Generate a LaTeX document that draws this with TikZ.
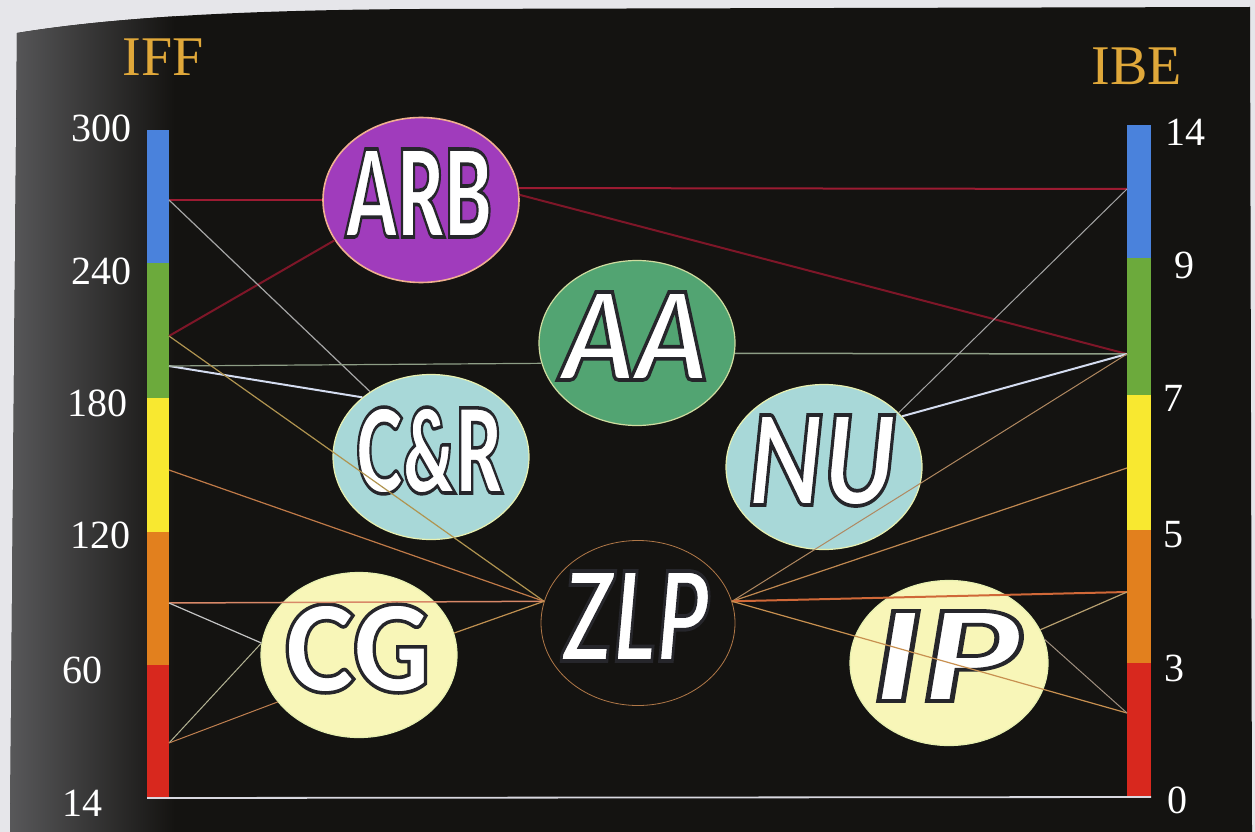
\documentclass[tikz,border=0pt]{standalone}
\usepackage{fontspec}
\setmainfont{Liberation Serif}
\usepackage{graphicx}
\usetikzlibrary{shapes.geometric}
\IfFontExistsTF{Lato Black}
  {\font\waup="Lato Black:embolden=3" at 120pt}
  {\font\waup="Liberation Sans/B:embolden=3" at 120pt}
\IfFontExistsTF{Lato Black Italic}
  {\font\wait="Lato Black Italic:embolden=3" at 120pt}
  {\font\wait="Liberation Sans/BI:embolden=3" at 120pt}
\newcommand\wa[4]{\makebox[0pt]{\hspace*{-4pt}\raisebox{\dimexpr 7pt-#2pt/2\relax}[0pt][0pt]{\resizebox{#1pt}{#2pt}{#3\special{pdf:literal direct 0.15 0.15 0.17 RG}#4}}}}
\definecolor{pagebg}{HTML}{E6E6EA}
\definecolor{bg}{HTML}{141311}
\definecolor{shadeL}{HTML}{5C5C5E}
\definecolor{barblue}{HTML}{4A82DC}
\definecolor{bargreen}{HTML}{6CAA3C}
\definecolor{baryellow}{HTML}{F8E830}
\definecolor{barorange}{HTML}{E2801E}
\definecolor{barred}{HTML}{D8281E}
\definecolor{gold}{HTML}{E0A83A}
\definecolor{arbfill}{HTML}{A03CBC}
\definecolor{arbedge}{HTML}{F0B090}
\definecolor{aafill}{HTML}{52A472}
\definecolor{aaedge}{HTML}{D0DCA0}
\definecolor{crfill}{HTML}{A8D8D8}
\definecolor{cgfill}{HTML}{F8F6B8}
\definecolor{paleedge}{HTML}{E8F0B0}
\definecolor{zlpedge}{HTML}{B07848}
\definecolor{redA}{HTML}{9C1B32}
\definecolor{redB}{HTML}{7E1628}
\definecolor{greyA}{HTML}{A5A5A5}
\definecolor{paleblue}{HTML}{D4DCF0}
\definecolor{greygreen}{HTML}{8E9E86}
\definecolor{tanA}{HTML}{B09450}
\definecolor{tanB}{HTML}{C07A48}
\definecolor{pinkor}{HTML}{D88868}
\definecolor{greyB}{HTML}{C4C4C4}
\definecolor{greyY}{HTML}{B4B494}
\definecolor{tanC}{HTML}{C08050}
\definecolor{tanD}{HTML}{C09050}
\definecolor{tanE}{HTML}{B08860}
\definecolor{tanF}{HTML}{C08850}
\definecolor{orred}{HTML}{D06838}
\definecolor{tanG}{HTML}{C89050}
\definecolor{tanH}{HTML}{B8A070}
\definecolor{greyT}{HTML}{A09080}
\definecolor{axisc}{HTML}{D8D8E0}
\tikzset{
  blob/.style={ellipse, inner sep=0pt, text=white, line width=1.2pt, minimum width=196pt, minimum height=165pt},
  numlab/.style={text=white, inner sep=0pt, font=\fontsize{40}{40}\selectfont},
  ttl/.style={text=gold, inner sep=0pt, font=\fontsize{56}{56}\selectfont},
  conn/.style={line width=#1},
  conn/.default=1.2pt
}
\begin{document}
\begin{tikzpicture}[x=1pt,y=-1pt]
\useasboundingbox (0,0) rectangle (1255,832);
\fill[pagebg] (0,0) rectangle (1255,832);
\begin{scope}
  \clip (17,33) .. controls (120,16) and (260,10) .. (420,9) -- (1250,7) -- (1252,832) -- (10,832) -- cycle;
  \fill[bg] (0,0) rectangle (1255,832);
  \shade[left color=shadeL, right color=bg] (0,0) rectangle (175,832);
\end{scope}

% colour bars
\fill[barblue]   (147,130) rectangle (169,263);
\fill[bargreen]  (147,263) rectangle (169,398);
\fill[baryellow] (147,398) rectangle (169,532);
\fill[barorange] (147,532) rectangle (169,665);
\fill[barred]    (147,665) rectangle (169,798);
\fill[barblue]   (1127,125) rectangle (1151,258);
\fill[bargreen]  (1127,258) rectangle (1151,395);
\fill[baryellow] (1127,395) rectangle (1151,530);
\fill[barorange] (1127,530) rectangle (1151,663);
\fill[barred]    (1127,663) rectangle (1151,797);
\coordinate (ax1) at (147,798);
\coordinate (ax2) at (1151,797);
\draw[axisc, line width=1.8pt] (ax1) -- (ax2);

% titles and scale labels
\node[ttl] (iff) at (163,57) {IFF};
\node[ttl] (ibe) at (1137,66) {IBE};
\node[numlab] (t300) at (101,128) {300};
\node[numlab] (t240) at (101,271) {240};
\node[numlab] (t180) at (97,403) {180};
\node[numlab] (t120) at (100,535) {120};
\node[numlab] (t60)  at (82,670) {60};
\node[numlab] (t14)  at (82,803) {14};
\node[numlab] (r14)  at (1185,132) {14};
\node[numlab] (r9)   at (1184,265) {9};
\node[numlab] (r7)   at (1173,398) {7};
\node[numlab] (r5)   at (1173,535) {5};
\node[numlab] (r3)   at (1174,668) {3};
\node[numlab] (r0)   at (1177,800) {0};

% ellipses
\node[blob, fill=arbfill, draw=arbedge, line width=1.6pt] (arb) at (421,200) {\wa{146}{88}{\waup}{ARB}};
\node[blob, fill=aafill, draw=aaedge] (aa) at (637,343) {\wa{146}{88}{\wait}{AA}};
\node[blob, fill=crfill, draw=paleedge] (cr) at (431,457) {\wa{146}{86}{\waup}{C\&R}};
\node[blob, fill=crfill, draw=paleedge] (nu) at (824,467) {\wa{148}{90}{\wait}{NU}};
\node[blob, fill=bg, draw=zlpedge, line width=0.8pt, minimum width=194pt] (zlp) at (638,623) {\wa{146}{90}{\wait}{ZLP}};
\node[blob, fill=cgfill, draw=paleedge] (cg) at (359,655) {\wa{146}{88}{\waup}{CG}};
\node[blob, fill=cgfill, draw=paleedge, minimum width=198pt] (ip) at (949,663) {\wa{148}{90}{\wait}{IP}};

% attachment points on the bars
\coordinate (l200) at (169,200);
\coordinate (l336) at (169,336);
\coordinate (l366) at (169,366);
\coordinate (l470) at (169,470);
\coordinate (l603) at (169,603);
\coordinate (l743) at (169,743);
\coordinate (r189) at (1127,189);
\coordinate (r354) at (1127,354);
\coordinate (r468) at (1127,468);
\coordinate (r592) at (1127,592);
\coordinate (r713) at (1127,713);

% connectors
\draw[conn=2pt, redA] (l200) -- (arb.180);
\draw[conn=2pt, redB] (l336) -- (arb.205);
\draw[conn=2pt, redA] (arb.7) -- (r189);
\draw[conn=2pt, redB] (arb.3) -- (r354);
\draw[conn, greyA] (l200) -- (cr.133);
\draw[conn=2pt, paleblue] (l366) -- (cr.139);
\draw[conn, greygreen] (l366) -- (aa.192);
\draw[conn=1.5pt, greygreen] (aa.-6) -- (r354);
\draw[conn, tanA] (l336) -- (zlp.167);
\draw[conn, tanB] (l470) -- (zlp.167);
\draw[conn=1.5pt, pinkor] (l603) -- (zlp.167);
\draw[conn, greyB] (l603) -- (cg.173);
\draw[conn=1pt, greyY] (l743) -- (cg.173);
\draw[conn=1pt, tanC] (l743) -- (cg.210);
\draw[conn, tanD] (cg.13) -- (zlp.167);
\draw[conn=1pt, greyA] (nu.36) -- (r189);
\draw[conn=2pt, paleblue] (nu.33) -- (r354);
\draw[conn=1pt, tanE] (zlp.13) -- (r354);
\draw[conn, tanF] (zlp.13) -- (r468);
\draw[conn=2pt, orred] (zlp.13) -- (r592);
\draw[conn, tanG] (zlp.13) -- (r713);
\draw[conn, tanH] (ip.20) -- (r592);
\draw[conn=1pt, greyT] (ip.14) -- (r713);
\end{tikzpicture}
\end{document}
